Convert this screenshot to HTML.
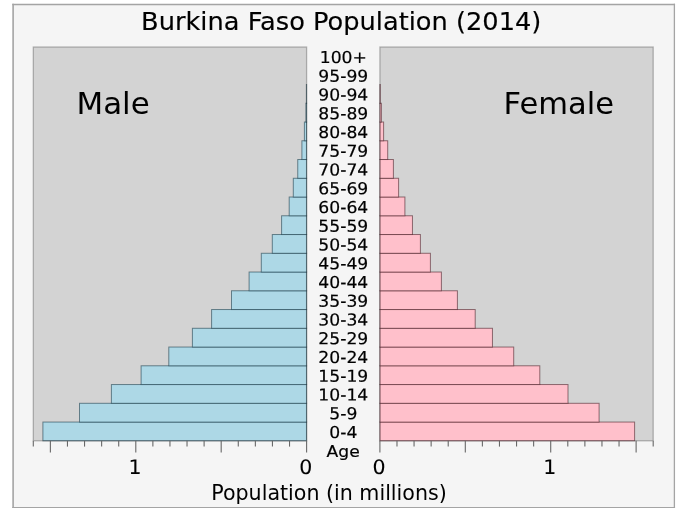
<!DOCTYPE html>
<html lang="en"><head><meta charset="utf-8"><title>Burkina Faso Population (2014)</title>
<style>
html,body{margin:0;padding:0;background:#fff;}
body{width:683px;height:512px;overflow:hidden;}
svg{display:block;}
text{font-family:"DejaVu Sans","Liberation Sans",sans-serif;fill:#000;}
.age{font-size:16.5px;text-anchor:middle;stroke:#000;stroke-width:0.2px;}
.tk{font-size:19.9px;text-anchor:middle;stroke:#000;stroke-width:0.1px;}
.big{font-size:30.9px;}
</style></head><body>
<svg width="683" height="512" viewBox="0 0 683 512">
<rect x="0" y="0" width="683" height="512" fill="#ffffff"/>
<rect x="12.8" y="4.55" width="661.6" height="502.95" fill="#f5f5f5"/>
<g stroke="#a4a4a4" fill="none">
<line x1="12.3" y1="4.55" x2="675.05" y2="4.55" stroke-width="1.5"/>
<line x1="13.1" y1="3.8" x2="13.1" y2="508.1" stroke-width="1.6"/>
<line x1="674.4" y1="3.8" x2="674.4" y2="508.1" stroke-width="1.3"/>
<line x1="12.3" y1="507.5" x2="675.05" y2="507.5" stroke-width="1.2"/>
</g>

<rect x="33.3" y="47.0" width="273.30" height="393.80" fill="#d3d3d3"/>
<rect x="379.9" y="47.0" width="273.30" height="393.80" fill="#d3d3d3"/>
<g fill="#add8e6" stroke="rgba(0,35,50,0.5)" stroke-width="1.0">
<rect x="42.90" y="422.05" width="263.70" height="18.752"/>
<rect x="79.50" y="403.30" width="227.10" height="18.752"/>
<rect x="111.40" y="384.54" width="195.20" height="18.752"/>
<rect x="141.10" y="365.79" width="165.50" height="18.752"/>
<rect x="168.80" y="347.04" width="137.80" height="18.752"/>
<rect x="192.40" y="328.29" width="114.20" height="18.752"/>
<rect x="211.60" y="309.53" width="95.00" height="18.752"/>
<rect x="231.50" y="290.78" width="75.10" height="18.752"/>
<rect x="249.10" y="272.03" width="57.50" height="18.752"/>
<rect x="261.30" y="253.28" width="45.30" height="18.752"/>
<rect x="272.30" y="234.52" width="34.30" height="18.752"/>
<rect x="281.60" y="215.77" width="25.00" height="18.752"/>
<rect x="289.20" y="197.02" width="17.40" height="18.752"/>
<rect x="293.30" y="178.27" width="13.30" height="18.752"/>
<rect x="297.75" y="159.51" width="8.85" height="18.752"/>
<rect x="301.90" y="140.76" width="4.70" height="18.752"/>
<rect x="304.40" y="122.01" width="2.20" height="18.752"/>
<rect x="305.90" y="103.26" width="0.70" height="18.752"/>
<rect x="306.40" y="84.50" width="0.20" height="18.752"/>
</g>
<g fill="#ffc0cb" stroke="rgba(45,0,10,0.5)" stroke-width="1.0">
<rect x="379.90" y="422.05" width="254.70" height="18.752"/>
<rect x="379.90" y="403.30" width="219.20" height="18.752"/>
<rect x="379.90" y="384.54" width="188.10" height="18.752"/>
<rect x="379.90" y="365.79" width="159.90" height="18.752"/>
<rect x="379.90" y="347.04" width="133.80" height="18.752"/>
<rect x="379.90" y="328.29" width="112.55" height="18.752"/>
<rect x="379.90" y="309.53" width="95.30" height="18.752"/>
<rect x="379.90" y="290.78" width="77.50" height="18.752"/>
<rect x="379.90" y="272.03" width="61.50" height="18.752"/>
<rect x="379.90" y="253.28" width="50.50" height="18.752"/>
<rect x="379.90" y="234.52" width="40.50" height="18.752"/>
<rect x="379.90" y="215.77" width="32.55" height="18.752"/>
<rect x="379.90" y="197.02" width="25.00" height="18.752"/>
<rect x="379.90" y="178.27" width="18.70" height="18.752"/>
<rect x="379.90" y="159.51" width="13.50" height="18.752"/>
<rect x="379.90" y="140.76" width="7.80" height="18.752"/>
<rect x="379.90" y="122.01" width="3.70" height="18.752"/>
<rect x="379.90" y="103.26" width="1.50" height="18.752"/>
<rect x="379.90" y="84.50" width="0.40" height="18.752"/>
</g>
<rect x="33.3" y="47.0" width="273.30" height="393.80" fill="none" stroke="rgba(0,0,0,0.25)" stroke-width="1.3"/>
<rect x="379.9" y="47.0" width="273.30" height="393.80" fill="none" stroke="rgba(0,0,0,0.25)" stroke-width="1.3"/>
<g stroke="#686868" stroke-width="1.1">
<line x1="306.60" y1="440.8" x2="306.60" y2="452.50"/>
<line x1="379.90" y1="440.8" x2="379.90" y2="452.50"/>
<line x1="289.52" y1="440.8" x2="289.52" y2="446.60"/>
<line x1="396.98" y1="440.8" x2="396.98" y2="446.60"/>
<line x1="272.44" y1="440.8" x2="272.44" y2="446.60"/>
<line x1="414.06" y1="440.8" x2="414.06" y2="446.60"/>
<line x1="255.36" y1="440.8" x2="255.36" y2="446.60"/>
<line x1="431.14" y1="440.8" x2="431.14" y2="446.60"/>
<line x1="238.28" y1="440.8" x2="238.28" y2="446.60"/>
<line x1="448.22" y1="440.8" x2="448.22" y2="446.60"/>
<line x1="221.19" y1="440.8" x2="221.19" y2="452.50"/>
<line x1="465.31" y1="440.8" x2="465.31" y2="452.50"/>
<line x1="204.11" y1="440.8" x2="204.11" y2="446.60"/>
<line x1="482.39" y1="440.8" x2="482.39" y2="446.60"/>
<line x1="187.03" y1="440.8" x2="187.03" y2="446.60"/>
<line x1="499.47" y1="440.8" x2="499.47" y2="446.60"/>
<line x1="169.95" y1="440.8" x2="169.95" y2="446.60"/>
<line x1="516.55" y1="440.8" x2="516.55" y2="446.60"/>
<line x1="152.87" y1="440.8" x2="152.87" y2="446.60"/>
<line x1="533.63" y1="440.8" x2="533.63" y2="446.60"/>
<line x1="135.79" y1="440.8" x2="135.79" y2="452.50"/>
<line x1="550.71" y1="440.8" x2="550.71" y2="452.50"/>
<line x1="118.71" y1="440.8" x2="118.71" y2="446.60"/>
<line x1="567.79" y1="440.8" x2="567.79" y2="446.60"/>
<line x1="101.62" y1="440.8" x2="101.62" y2="446.60"/>
<line x1="584.88" y1="440.8" x2="584.88" y2="446.60"/>
<line x1="84.54" y1="440.8" x2="84.54" y2="446.60"/>
<line x1="601.96" y1="440.8" x2="601.96" y2="446.60"/>
<line x1="67.46" y1="440.8" x2="67.46" y2="446.60"/>
<line x1="619.04" y1="440.8" x2="619.04" y2="446.60"/>
<line x1="50.38" y1="440.8" x2="50.38" y2="452.50"/>
<line x1="636.12" y1="440.8" x2="636.12" y2="452.50"/>
<line x1="33.30" y1="440.8" x2="33.30" y2="446.60"/>
<line x1="653.20" y1="440.8" x2="653.20" y2="446.60"/>
</g>
<text class="tk" transform="translate(305.75,474.05) rotate(0.1) scale(1.03,1)">0</text>
<text class="tk" transform="translate(134.94,474.05) rotate(0.1) scale(1.03,1)">1</text>
<text class="tk" transform="translate(379.05,474.05) rotate(0.1) scale(1.03,1)">0</text>
<text class="tk" transform="translate(549.86,474.05) rotate(0.1) scale(1.03,1)">1</text>
<text class="age" transform="translate(343.3,438.10) rotate(0.1) scale(1.04,1)">0-4</text>
<text class="age" transform="translate(343.3,419.35) rotate(0.1) scale(1.04,1)">5-9</text>
<text class="age" transform="translate(343.3,400.60) rotate(0.1) scale(1.04,1)">10-14</text>
<text class="age" transform="translate(343.3,381.84) rotate(0.1) scale(1.04,1)">15-19</text>
<text class="age" transform="translate(343.3,363.09) rotate(0.1) scale(1.04,1)">20-24</text>
<text class="age" transform="translate(343.3,344.34) rotate(0.1) scale(1.04,1)">25-29</text>
<text class="age" transform="translate(343.3,325.59) rotate(0.1) scale(1.04,1)">30-34</text>
<text class="age" transform="translate(343.3,306.83) rotate(0.1) scale(1.04,1)">35-39</text>
<text class="age" transform="translate(343.3,288.08) rotate(0.1) scale(1.04,1)">40-44</text>
<text class="age" transform="translate(343.3,269.33) rotate(0.1) scale(1.04,1)">45-49</text>
<text class="age" transform="translate(343.3,250.58) rotate(0.1) scale(1.04,1)">50-54</text>
<text class="age" transform="translate(343.3,231.82) rotate(0.1) scale(1.04,1)">55-59</text>
<text class="age" transform="translate(343.3,213.07) rotate(0.1) scale(1.04,1)">60-64</text>
<text class="age" transform="translate(343.3,194.32) rotate(0.1) scale(1.04,1)">65-69</text>
<text class="age" transform="translate(343.3,175.57) rotate(0.1) scale(1.04,1)">70-74</text>
<text class="age" transform="translate(343.3,156.81) rotate(0.1) scale(1.04,1)">75-79</text>
<text class="age" transform="translate(343.3,138.06) rotate(0.1) scale(1.04,1)">80-84</text>
<text class="age" transform="translate(343.3,119.31) rotate(0.1) scale(1.04,1)">85-89</text>
<text class="age" transform="translate(343.3,100.56) rotate(0.1) scale(1.04,1)">90-94</text>
<text class="age" transform="translate(343.3,81.80) rotate(0.1) scale(1.04,1)">95-99</text>
<text class="age" transform="translate(343.3,63.05) rotate(0.1) scale(1.04,1)">100+</text>
<text class="age" transform="translate(343.2,456.9) scale(1.04,1)">Age</text>
<text transform="translate(341.2,29.6) scale(1.027,1)" x="0" y="0" font-size="25.0" text-anchor="middle" stroke="#000" stroke-width="0.15">Burkina Faso Population (2014)</text>
<text class="big" x="76.5" y="114">Male</text>
<text class="big" transform="translate(503.6,114) scale(0.989,1)">Female</text>
<text x="329.0" y="499.5" font-size="20.6" text-anchor="middle">Population (in millions)</text>
</svg></body></html>
